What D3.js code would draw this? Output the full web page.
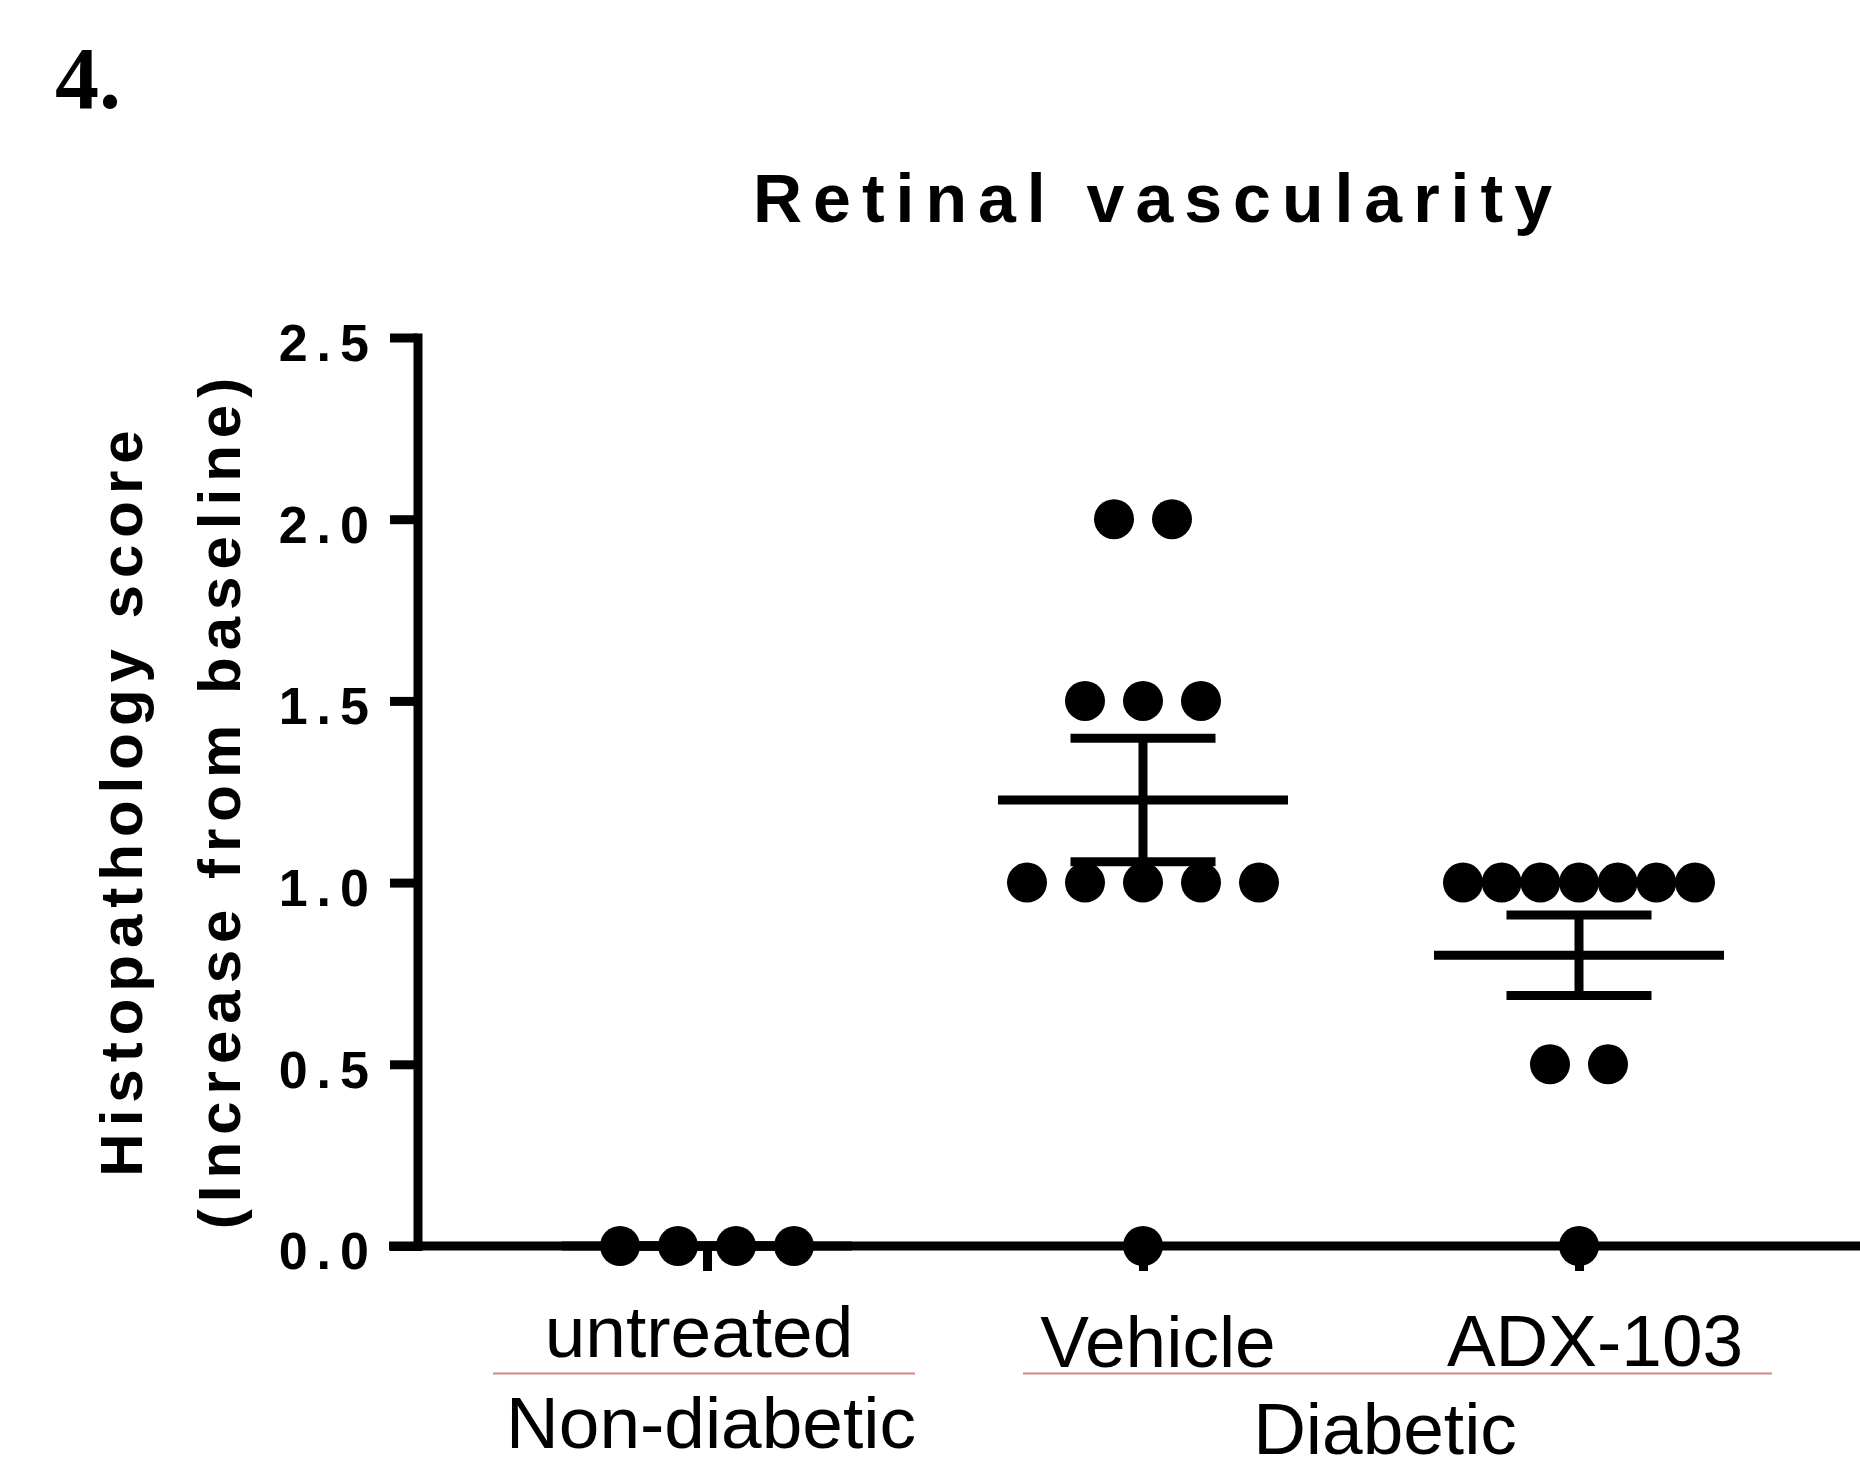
<!DOCTYPE html>
<html lang="en">
<head>
<meta charset="UTF-8" />
<title>Retinal vascularity</title>
<script src="https://cdn.jsdelivr.net/npm/d3@7"></script>
<style>
  body { margin: 0; background: #fff; }
  svg { display: block; font-family: "Liberation Sans", Arial, sans-serif; }
</style>
</head>
<body>
<svg id="chart"></svg>
<script>
// data
const groups = ["untreated", "Vehicle", "ADX-103"];
const untreatedScores = [0, 0, 0, 0];
const vehicleScores = [2, 2, 1.5, 1.5, 1.5, 1, 1, 1, 1, 1, 0];
const adxScores = [1, 1, 1, 1, 1, 1, 1, 0.5, 0.5, 0];
const yTicks = [0, 0.5, 1, 1.5, 2, 2.5];
const conditions = ["Non-diabetic", "Diabetic"];

const scores = { "untreated": untreatedScores, "Vehicle": vehicleScores, "ADX-103": adxScores };

const width = 1860, height = 1461;
const axisX = 417.5;
const stroke = 9;
const dotR = 20;
const dotGap = 58;     // centre to centre spacing of dots in a row
const maxSpread = 232; // widest a row of dots may get
const meanHalf = 145, capHalf = 72.5;

const svg = d3.select("#chart").attr("width", width).attr("height", height);

const y = d3.scaleLinear().domain([0, 2.5]).range([1246, 337.5]);
const x = d3.scalePoint().domain(groups).range([707, 1579]);

// panel number
svg.append("text")
  .attr("x", 55).attr("y", 108)
  .style("font-family", '"Liberation Serif", "Times New Roman", serif')
  .style("font-weight", 700).style("font-size", "88px")
  .text("4.");

// title
svg.append("text")
  .attr("x", 1158).attr("y", 222)
  .attr("text-anchor", "middle")
  .style("font-weight", 700).style("font-size", "68px")
  .style("letter-spacing", "11px")
  .text("Retinal vascularity");

// y axis title, two lines
const yTitle = ["Histopathology score", "(Increase from baseline)"];
svg.selectAll(".ytitle")
  .data(yTitle)
  .join("text")
  .attr("class", "ytitle")
  .attr("transform", (d, i) => `translate(${142 + i * 98},800) rotate(-90)`)
  .attr("text-anchor", "middle")
  .style("font-weight", 700).style("font-size", "60px")
  .style("letter-spacing", "7px")
  .text(d => d);

// x axis base line
svg.append("line")
  .attr("x1", axisX - 28.5).attr("x2", width)
  .attr("y1", y(0)).attr("y2", y(0))
  .attr("stroke", "#000").attr("stroke-width", stroke);

// x axis ticks at each group
const gx = svg.append("g")
  .attr("transform", `translate(0,${y(0)})`)
  .call(d3.axisBottom(x).tickSize(25).tickFormat(""));
gx.select(".domain").remove();
gx.selectAll(".tick line").attr("stroke", "#000").attr("stroke-width", stroke);

// y axis
const gy = svg.append("g")
  .attr("transform", `translate(${axisX},0)`)
  .call(d3.axisLeft(y).tickValues(yTicks).tickFormat(d3.format(".1f"))
    .tickSize(27.5).tickSizeOuter(0).tickPadding(12));
gy.select(".domain").attr("stroke", "#000").attr("stroke-width", stroke)
  .attr("stroke-linecap", "square");
gy.selectAll(".tick line").attr("stroke", "#000").attr("stroke-width", stroke);
gy.selectAll(".tick text")
  .attr("fill", "#000").attr("dy", "0.44em")
  .style("font-family", '"Liberation Sans", Arial, sans-serif')
  .style("font-weight", 700).style("font-size", "52px")
  .style("letter-spacing", "9px");

// mean and SEM
const stats = groups.map(g => {
  const v = scores[g];
  const m = d3.mean(v);
  const sem = d3.deviation(v) / Math.sqrt(v.length);
  return { g, m, lo: m - sem, hi: m + sem };
});

const gs = svg.append("g").attr("stroke", "#000").attr("stroke-width", stroke);
gs.selectAll(".mean").data(stats).join("line")
  .attr("class", "mean")
  .attr("x1", d => x(d.g) - meanHalf).attr("x2", d => x(d.g) + meanHalf)
  .attr("y1", d => y(d.m)).attr("y2", d => y(d.m));
gs.selectAll(".whisker").data(stats).join("line")
  .attr("class", "whisker")
  .attr("x1", d => x(d.g)).attr("x2", d => x(d.g))
  .attr("y1", d => y(d.lo)).attr("y2", d => y(d.hi));
gs.selectAll(".cap")
  .data(stats.flatMap(d => [{ g: d.g, v: d.lo }, { g: d.g, v: d.hi }]))
  .join("line")
  .attr("class", "cap")
  .attr("x1", d => x(d.g) - capHalf).attr("x2", d => x(d.g) + capHalf)
  .attr("y1", d => y(d.v)).attr("y2", d => y(d.v));

// scatter dots, rows of equal values spread sideways
const dots = [];
groups.forEach(g => {
  const rows = d3.group(scores[g], v => v);
  rows.forEach((vals, v) => {
    const n = vals.length;
    const step = n > 1 ? Math.min(dotGap, maxSpread / (n - 1)) : 0;
    vals.forEach((_, i) => dots.push({ g, v, off: (i - (n - 1) / 2) * step }));
  });
});
svg.append("g").selectAll("circle").data(dots).join("circle")
  .attr("cx", d => x(d.g) + d.off)
  .attr("cy", d => y(d.v))
  .attr("r", dotR)
  .attr("fill", "#000");

// category labels
const labelShift = { "untreated": -8, "Vehicle": 15, "ADX-103": 16 };
const labelBase = { "untreated": 1357, "Vehicle": 1367, "ADX-103": 1366 };
svg.selectAll(".cat").data(groups).join("text")
  .attr("class", "cat")
  .attr("x", d => x(d) + labelShift[d])
  .attr("y", d => labelBase[d])
  .attr("text-anchor", "middle")
  .style("font-size", "73px")
  .text(d => d);

// condition brackets
const brackets = [
  { label: conditions[0], x1: x("untreated") - 214, x2: x("untreated") + 208, tx: x("untreated") + 4, ty: 1448 },
  { label: conditions[1], x1: x("Vehicle") - 120, x2: x("ADX-103") + 193, tx: (x("Vehicle") + x("ADX-103")) / 2 + 24, ty: 1454 }
];
svg.selectAll(".bracket").data(brackets).join("line")
  .attr("class", "bracket")
  .attr("x1", d => d.x1).attr("x2", d => d.x2)
  .attr("y1", 1373.5).attr("y2", 1373.5)
  .attr("stroke", "#d4878a").attr("stroke-width", 2);
svg.selectAll(".cond").data(brackets).join("text")
  .attr("class", "cond")
  .attr("x", d => d.tx).attr("y", d => d.ty)
  .attr("text-anchor", "middle")
  .style("font-size", "73px")
  .text(d => d.label);
</script>
</body>
</html>
